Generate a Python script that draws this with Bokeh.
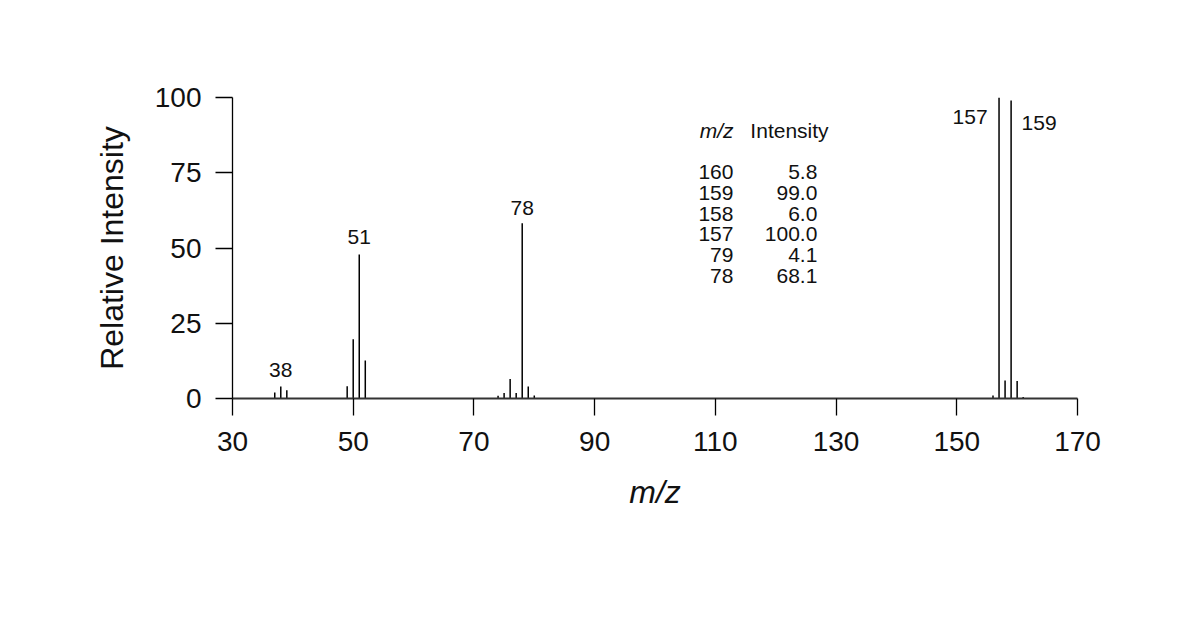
from bokeh.plotting import figure
from bokeh.models import FixedTicker, Range1d, ColumnDataSource
from bokeh.core.properties import value
from bokeh.embed import file_html
from bokeh.resources import INLINE

# ---- data ----
mz = [37, 38, 39, 49, 50, 51, 52, 74, 75, 76, 77, 78, 79, 80,
      156, 157, 158, 159, 160, 161]
intensity = [2.0, 4.0, 2.7, 4.1, 19.7, 47.8, 12.6, 0.9, 1.8, 6.5, 1.8, 58.2, 4.0, 1.0,
             1.0, 100.0, 6.0, 99.0, 5.8, 0.5]

label_mz = [38, 51, 78, 157, 159]

table_mz = ["160", "159", "158", "157", "79", "78"]
table_int = ["5.8", "99.0", "6.0", "100.0", "4.1", "68.1"]

x_ticks = [30, 50, 70, 90, 110, 130, 150, 170]
y_ticks = [0, 25, 50, 75, 100]

FONT = "Liberation Sans"

p = figure(frame_width=845, frame_height=301,
           min_border_left=232, min_border_right=100,
           min_border_top=97, min_border_bottom=190,
           x_range=Range1d(30, 170), y_range=Range1d(0, 100),
           output_backend="svg", toolbar_location=None,
           background_fill_color="white", border_fill_color="white")
p.outline_line_color = None
p.xgrid.visible = False
p.ygrid.visible = False

# spectrum sticks
src = ColumnDataSource(dict(x=mz, y=intensity, y0=[0] * len(mz)))
p.segment(x0="x", y0="y0", x1="x", y1="y", source=src,
          line_color="black", line_width=1.5)

# peak labels
lab_y = [intensity[mz.index(m)] for m in label_mz]
x_off = [0, 0, 0, -29, 28]
y_off = [-16, -18, -15, 19, 22]
p.text(x=label_mz, y=lab_y, text=[str(m) for m in label_mz],
       x_offset=x_off, y_offset=y_off,
       text_font=value(FONT), text_font_size="21px", text_color="#111111",
       text_align="center", text_baseline="middle")

# table inset (data coordinates)
row_y0 = 75.2
row_step = 6.88
rows_y = [row_y0 - i * row_step for i in range(len(table_mz))]
p.text(x=[113.0] * len(table_mz), y=rows_y, text=table_mz,
       text_font=value(FONT), text_font_size="21px", text_color="#111111",
       text_align="right", text_baseline="middle")
p.text(x=[126.9] * len(table_int), y=rows_y, text=table_int,
       text_font=value(FONT), text_font_size="21px", text_color="#111111",
       text_align="right", text_baseline="middle")
p.text(x=[113.0], y=[89.0], text=["m/z"],
       text_font=value(FONT), text_font_size="21px", text_font_style="italic",
       text_color="#111111", text_align="right", text_baseline="middle")
p.text(x=[115.8], y=[89.0], text=["Intensity"],
       text_font=value(FONT), text_font_size="21px", text_color="#111111",
       text_align="left", text_baseline="middle")

# axes
for ax in (p.xaxis[0], p.yaxis[0]):
    ax.major_tick_in = 0
    ax.major_tick_out = 17
    ax.minor_tick_line_color = None
    ax.major_tick_line_color = "black"
    ax.major_tick_line_width = 1.3
    ax.axis_line_color = "black"
    ax.major_label_text_font = FONT
    ax.major_label_text_font_size = "28px"
    ax.major_label_text_color = "#111111"
    ax.axis_label_text_font = FONT
    ax.axis_label_text_font_size = "32px"
    ax.axis_label_text_color = "#111111"

p.xaxis.ticker = FixedTicker(ticks=x_ticks)
p.yaxis.ticker = FixedTicker(ticks=y_ticks)
p.xaxis.axis_line_width = 2
p.xaxis.axis_line_color = "#333333"
p.yaxis.axis_line_width = 1.3
p.xaxis.major_label_standoff = 16
p.yaxis.major_label_standoff = 14
p.xaxis.axis_label = "m/z"
p.xaxis.axis_label_text_font_style = "italic"
p.xaxis.axis_label_standoff = 20
p.yaxis.axis_label = "Relative Intensity"
p.yaxis.axis_label_text_font_style = "normal"
p.yaxis.axis_label_standoff = 22
p.yaxis.major_label_orientation = "horizontal"

open("out.html", "w").write(file_html(p, INLINE))
